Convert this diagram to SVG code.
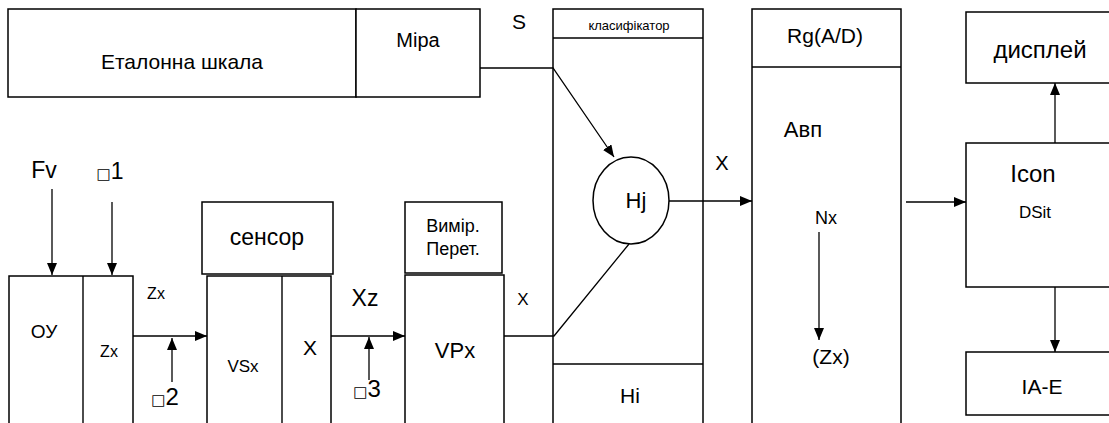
<svg xmlns="http://www.w3.org/2000/svg" width="1109" height="423" viewBox="0 0 1109 423">
<style>
.b{fill:#fff;stroke:#000;stroke-width:1.5}
.l{fill:none;stroke:#000;stroke-width:1.4}
.c{fill:none;stroke:#000;stroke-width:1.3}
text{font-family:"Liberation Sans",Arial,sans-serif;fill:#000;text-anchor:middle}
.sq{font-family:"DejaVu Sans",sans-serif;font-size:15px;fill:#000}
</style>
<defs>
<marker id="ah" viewBox="0 0 12 10" refX="12" refY="5" markerWidth="12" markerHeight="10" markerUnits="userSpaceOnUse" orient="auto">
<path d="M0,0 L12,5 L0,10 Z" fill="#000"/>
</marker>
</defs>
<rect width="1109" height="423" fill="#fff"/>
<g id="etalon">
<rect class="b" x="8" y="9" width="348" height="88"/>
<text x="182" y="69" font-size="21">Еталонна шкала</text>
</g>
<g id="mira">
<rect class="b" x="356" y="9" width="124" height="88"/>
<text x="418" y="47" font-size="20">Міра</text>
</g>
<g id="classifier">
<rect class="b" x="553" y="9" width="150" height="430"/>
<line class="l" x1="553" y1="38" x2="703" y2="38"/>
<line class="l" x1="553" y1="364" x2="703" y2="364"/>
<text x="629" y="30" font-size="13">класифікатор</text>
<text x="630" y="403" font-size="21">Hi</text>
</g>
<g id="hj">
<ellipse class="b" cx="631" cy="200.5" rx="38" ry="43.5"/>
<text x="636" y="208" font-size="22">Hj</text>
</g>
<g id="rg">
<rect class="b" x="752" y="9" width="149" height="430"/>
<line class="l" x1="752" y1="67" x2="901" y2="67"/>
<text x="825" y="43" font-size="21">Rg(A/D)</text>
<text x="803" y="137" font-size="22">Авп</text>
<text x="826" y="224" font-size="18">Nx</text>
<text x="831" y="364" font-size="21">(Zx)</text>
</g>
<g id="display">
<rect class="b" x="966" y="12" width="150" height="71"/>
<text x="1040" y="58" font-size="24">дисплей</text>
</g>
<g id="icon">
<rect class="b" x="966" y="143" width="150" height="144"/>
<text x="1033" y="182" font-size="24">Icon</text>
<text x="1035" y="218" font-size="17">DSit</text>
</g>
<g id="iae">
<rect class="b" x="966" y="352" width="150" height="63"/>
<text x="1042" y="394" font-size="21">IA-E</text>
</g>
<g id="oy">
<rect class="b" x="9" y="276" width="124" height="160"/>
<line class="l" x1="83" y1="276" x2="83" y2="436"/>
<text x="44" y="338" font-size="19">ОУ</text>
<text x="109" y="357" font-size="16">Zx</text>
</g>
<g id="sensor">
<rect class="b" x="202" y="202" width="131" height="72"/>
<text x="267" y="245" font-size="23">сенсор</text>
</g>
<g id="vsx">
<rect class="b" x="207" y="276" width="124" height="160"/>
<line class="l" x1="282" y1="276" x2="282" y2="436"/>
<text x="243" y="372" font-size="17">VSx</text>
<text x="310" y="355" font-size="21">X</text>
</g>
<g id="vymir">
<rect class="b" x="405" y="202" width="97" height="71"/>
<text x="453" y="232" font-size="18">Вимір.</text>
<text x="453" y="255" font-size="18">Перет.</text>
</g>
<g id="vpx">
<rect class="b" x="405" y="275" width="99" height="160"/>
<text x="455" y="358" font-size="22">VPx</text>
</g>
<g id="connectors">
<polyline class="c" points="480,68 553,68 614,157" marker-end="url(#ah)"/>
<polyline class="c" points="504,336 554,336 629,244"/>
<line class="c" x1="669" y1="201" x2="752" y2="201" marker-end="url(#ah)"/>
<line class="c" x1="906" y1="202" x2="966" y2="202" marker-end="url(#ah)"/>
<line class="c" x1="1055" y1="143" x2="1055" y2="83" marker-end="url(#ah)"/>
<line class="c" x1="1055" y1="287" x2="1055" y2="352" marker-end="url(#ah)"/>
<line class="c" x1="819" y1="232" x2="819" y2="340" marker-end="url(#ah)"/>
<line class="c" x1="52" y1="189" x2="52" y2="275" marker-end="url(#ah)"/>
<line class="c" x1="112" y1="202" x2="112" y2="275" marker-end="url(#ah)"/>
<line class="c" x1="133" y1="336" x2="207" y2="336" marker-end="url(#ah)"/>
<line class="c" x1="172" y1="382" x2="172" y2="338" marker-end="url(#ah)"/>
<line class="c" x1="331" y1="336" x2="405" y2="336" marker-end="url(#ah)"/>
<line class="c" x1="369" y1="380" x2="369" y2="337" marker-end="url(#ah)"/>
</g>
<g id="labels">
<text x="519" y="29" font-size="21">S</text>
<text x="722" y="170" font-size="20">X</text>
<text x="523" y="305" font-size="17">X</text>
<text x="44" y="178" font-size="23">Fv</text>
<text x="110" y="179" font-size="23"><tspan class="sq">□</tspan>1</text>
<text x="156" y="299" font-size="16">Zx</text>
<text x="365" y="306" font-size="23">Xz</text>
<text x="165" y="405" font-size="24"><tspan class="sq">□</tspan>2</text>
<text x="367" y="397" font-size="24"><tspan class="sq">□</tspan>3</text>
</g>
</svg>
